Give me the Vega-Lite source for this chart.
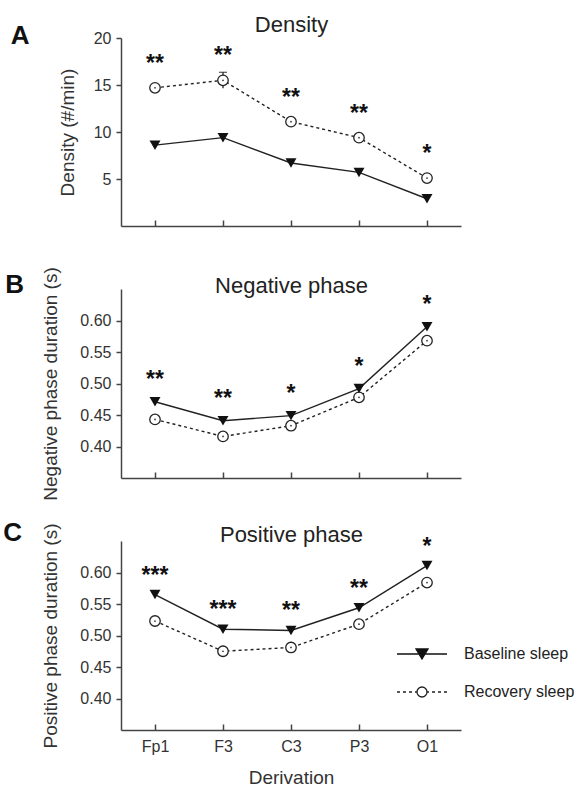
{
  "$schema": "https://vega.github.io/schema/vega-lite/v6.json",
  "padding": {"top": 13, "left": 3, "right": 5, "bottom": 5},
  "datasets": {
    "dens": [
      {"deriv": "Fp1", "series": "Baseline sleep", "value": 8.6, "sig": "**"},
      {"deriv": "F3", "series": "Baseline sleep", "value": 9.4, "sig": "**"},
      {"deriv": "C3", "series": "Baseline sleep", "value": 6.7, "sig": "**"},
      {"deriv": "P3", "series": "Baseline sleep", "value": 5.7, "sig": "**"},
      {"deriv": "O1", "series": "Baseline sleep", "value": 2.9, "sig": "*"},
      {"deriv": "Fp1", "series": "Recovery sleep", "value": 14.7},
      {"deriv": "F3", "series": "Recovery sleep", "value": 15.5},
      {"deriv": "C3", "series": "Recovery sleep", "value": 11.1},
      {"deriv": "P3", "series": "Recovery sleep", "value": 9.4},
      {"deriv": "O1", "series": "Recovery sleep", "value": 5.1}
    ],
    "err": [
      {"deriv": "F3", "series": "Recovery sleep", "lo": 14.65, "hi": 16.35}
    ],
    "neg": [
      {"deriv": "Fp1", "series": "Baseline sleep", "value": 0.471, "sig": "**"},
      {"deriv": "F3", "series": "Baseline sleep", "value": 0.441, "sig": "**"},
      {"deriv": "C3", "series": "Baseline sleep", "value": 0.449, "sig": "*"},
      {"deriv": "P3", "series": "Baseline sleep", "value": 0.492, "sig": "*"},
      {"deriv": "O1", "series": "Baseline sleep", "value": 0.590, "sig": "*"},
      {"deriv": "Fp1", "series": "Recovery sleep", "value": 0.443},
      {"deriv": "F3", "series": "Recovery sleep", "value": 0.416},
      {"deriv": "C3", "series": "Recovery sleep", "value": 0.433},
      {"deriv": "P3", "series": "Recovery sleep", "value": 0.478},
      {"deriv": "O1", "series": "Recovery sleep", "value": 0.568}
    ],
    "pos": [
      {"deriv": "Fp1", "series": "Baseline sleep", "value": 0.565, "sig": "***"},
      {"deriv": "F3", "series": "Baseline sleep", "value": 0.510, "sig": "***"},
      {"deriv": "C3", "series": "Baseline sleep", "value": 0.508, "sig": "**"},
      {"deriv": "P3", "series": "Baseline sleep", "value": 0.544, "sig": "**"},
      {"deriv": "O1", "series": "Baseline sleep", "value": 0.611, "sig": "*"},
      {"deriv": "Fp1", "series": "Recovery sleep", "value": 0.523},
      {"deriv": "F3", "series": "Recovery sleep", "value": 0.475},
      {"deriv": "C3", "series": "Recovery sleep", "value": 0.481},
      {"deriv": "P3", "series": "Recovery sleep", "value": 0.518},
      {"deriv": "O1", "series": "Recovery sleep", "value": 0.584}
    ]
  },
  "bounds": "flush",
  "spacing": 63,
  "vconcat": [
    {
      "width": 340,
      "height": 188,
      "title": {"text": "A", "orient": "left", "angle": 0, "anchor": "end", "frame": "group", "align": "right", "baseline": "alphabetic", "dy": 6, "fontSize": 26, "fontWeight": "bold", "offset": 10, "color": "#111"},
      "data": {"name": "dens"},
      "encoding": {
        "x": {"field": "deriv", "type": "ordinal", "sort": ["Fp1", "F3", "C3", "P3", "O1"], "scale": {"type": "point", "padding": 0.5}, "axis": null},
        "y": {"field": "value", "type": "quantitative", "scale": {"domain": [0, 20]}, "axis": {"title": "Density (#/min)", "values": [5, 10, 15, 20], "tickSize": 5, "labelPadding": 5, "titlePadding": 16}}
      },
      "resolve": {"axis": {"x": "independent"}},
      "layer": [
        {"transform": [{"filter": "datum.series == 'Recovery sleep'"}], "mark": {"type": "line", "color": "#222", "strokeWidth": 1.4, "strokeDash": [3, 3]},
         "encoding": {"x": {"field": "deriv", "type": "ordinal", "sort": ["Fp1", "F3", "C3", "P3", "O1"], "axis": {"labels": false, "title": null, "tickSize": -6}}}},
        {"transform": [{"filter": "datum.series == 'Baseline sleep'"}], "mark": {"type": "line", "color": "#222", "strokeWidth": 1.4}},
        {"data": {"name": "err"}, "mark": {"type": "rule", "color": "#222", "strokeWidth": 1.3}, "encoding": {"y": {"field": "lo", "type": "quantitative"}, "y2": {"field": "hi"}}},
        {"data": {"name": "err"}, "mark": {"type": "tick", "color": "#222", "thickness": 1.3, "size": 8}, "encoding": {"y": {"field": "hi", "type": "quantitative"}}},
        {"transform": [{"filter": "datum.series == 'Recovery sleep'"}], "mark": {"type": "point", "shape": "circle", "filled": true, "fill": "white", "stroke": "#222", "strokeWidth": 1.3, "size": 110, "opacity": 1}},
        {"transform": [{"filter": "datum.series == 'Recovery sleep'"}], "mark": {"type": "point", "shape": "circle", "filled": true, "color": "#333", "size": 3, "opacity": 1}},
        {"transform": [{"filter": "datum.series == 'Baseline sleep'"}], "mark": {"type": "point", "shape": "triangle-down", "filled": true, "color": "#111", "size": 120, "opacity": 1}},
        {
          "transform": [{"joinaggregate": [{"op": "max", "field": "value", "as": "top"}], "groupby": ["deriv"]}, {"filter": "datum.sig"}],
          "mark": {"type": "text", "fontSize": 23, "fontWeight": "bold", "color": "#111", "baseline": "alphabetic", "dy": -17},
          "encoding": {
            "x": {"field": "deriv", "type": "ordinal", "sort": ["Fp1", "F3", "C3", "P3", "O1"], "axis": {"orient": "top", "title": "Density", "domain": false, "ticks": false, "labels": false, "titleFontSize": 22, "titleColor": "#222", "titlePadding": 2}},
            "y": {"field": "top", "type": "quantitative"},
            "text": {"field": "sig"}
          }
        }
      ]
    },
    {
      "width": 340,
      "height": 189,
      "title": {"text": "B", "orient": "left", "angle": 0, "anchor": "end", "frame": "group", "align": "right", "baseline": "alphabetic", "dy": 4, "fontSize": 26, "fontWeight": "bold", "offset": -1, "color": "#111"},
      "data": {"name": "neg"},
      "encoding": {
        "x": {"field": "deriv", "type": "ordinal", "sort": ["Fp1", "F3", "C3", "P3", "O1"], "scale": {"type": "point", "padding": 0.5}, "axis": null},
        "y": {"field": "value", "type": "quantitative", "scale": {"domain": [0.35, 0.65]}, "axis": {"title": "Negative phase duration (s)", "values": [0.4, 0.45, 0.5, 0.55, 0.6], "format": ".2f", "tickSize": 5, "labelPadding": 5, "titlePadding": 19}}
      },
      "resolve": {"axis": {"x": "independent"}},
      "layer": [
        {"transform": [{"filter": "datum.series == 'Recovery sleep'"}], "mark": {"type": "line", "color": "#222", "strokeWidth": 1.4, "strokeDash": [3, 3]},
         "encoding": {"x": {"field": "deriv", "type": "ordinal", "sort": ["Fp1", "F3", "C3", "P3", "O1"], "axis": {"labels": false, "title": null, "tickSize": -6}}}},
        {"transform": [{"filter": "datum.series == 'Baseline sleep'"}], "mark": {"type": "line", "color": "#222", "strokeWidth": 1.4}},
        {"transform": [{"filter": "datum.series == 'Recovery sleep'"}], "mark": {"type": "point", "shape": "circle", "filled": true, "fill": "white", "stroke": "#222", "strokeWidth": 1.3, "size": 110, "opacity": 1}},
        {"transform": [{"filter": "datum.series == 'Recovery sleep'"}], "mark": {"type": "point", "shape": "circle", "filled": true, "color": "#333", "size": 3, "opacity": 1}},
        {"transform": [{"filter": "datum.series == 'Baseline sleep'"}], "mark": {"type": "point", "shape": "triangle-down", "filled": true, "color": "#111", "size": 120, "opacity": 1}},
        {
          "transform": [{"joinaggregate": [{"op": "max", "field": "value", "as": "top"}], "groupby": ["deriv"]}, {"filter": "datum.sig"}],
          "mark": {"type": "text", "fontSize": 23, "fontWeight": "bold", "color": "#111", "baseline": "alphabetic", "dy": -15},
          "encoding": {
            "x": {"field": "deriv", "type": "ordinal", "sort": ["Fp1", "F3", "C3", "P3", "O1"], "axis": {"orient": "top", "title": "Negative phase", "domain": false, "ticks": false, "labels": false, "titleFontSize": 22, "titleColor": "#222", "titlePadding": -8}},
            "y": {"field": "top", "type": "quantitative"},
            "text": {"field": "sig"}
          }
        }
      ]
    },
    {
      "width": 340,
      "height": 189,
      "title": {"text": "C", "orient": "left", "angle": 0, "anchor": "end", "frame": "group", "align": "right", "baseline": "alphabetic", "dy": 0, "fontSize": 26, "fontWeight": "bold", "offset": 1, "color": "#111"},
      "data": {"name": "pos"},
      "encoding": {
        "x": {"field": "deriv", "type": "ordinal", "sort": ["Fp1", "F3", "C3", "P3", "O1"], "scale": {"type": "point", "padding": 0.5}, "axis": null},
        "y": {"field": "value", "type": "quantitative", "scale": {"domain": [0.35, 0.65]}, "axis": {"title": "Positive phase duration (s)", "values": [0.4, 0.45, 0.5, 0.55, 0.6], "format": ".2f", "tickSize": 5, "labelPadding": 5, "titlePadding": 19}}
      },
      "resolve": {"axis": {"x": "independent"}},
      "layer": [
        {"transform": [{"filter": "datum.series == 'Recovery sleep'"}], "mark": {"type": "line", "color": "#222", "strokeWidth": 1.4, "strokeDash": [3, 3]},
         "encoding": {"x": {"field": "deriv", "type": "ordinal", "sort": ["Fp1", "F3", "C3", "P3", "O1"], "axis": {"title": "Derivation", "labelAngle": 0, "tickSize": -6, "labelPadding": 14, "titlePadding": 14}}}},
        {"transform": [{"filter": "datum.series == 'Baseline sleep'"}], "mark": {"type": "line", "color": "#222", "strokeWidth": 1.4}},
        {"transform": [{"filter": "datum.series == 'Recovery sleep'"}], "mark": {"type": "point", "shape": "circle", "filled": true, "fill": "white", "stroke": "#222", "strokeWidth": 1.3, "size": 110, "opacity": 1}},
        {"transform": [{"filter": "datum.series == 'Recovery sleep'"}], "mark": {"type": "point", "shape": "circle", "filled": true, "color": "#333", "size": 3, "opacity": 1}},
        {"transform": [{"filter": "datum.series == 'Baseline sleep'"}], "mark": {"type": "point", "shape": "triangle-down", "filled": true, "color": "#111", "size": 120, "opacity": 1}},
        {
          "transform": [{"joinaggregate": [{"op": "max", "field": "value", "as": "top"}], "groupby": ["deriv"]}, {"filter": "datum.sig"}],
          "mark": {"type": "text", "fontSize": 23, "fontWeight": "bold", "color": "#111", "baseline": "alphabetic", "dy": -12},
          "encoding": {
            "x": {"field": "deriv", "type": "ordinal", "sort": ["Fp1", "F3", "C3", "P3", "O1"], "axis": {"orient": "top", "title": "Positive phase", "domain": false, "ticks": false, "labels": false, "titleFontSize": 22, "titleColor": "#222", "titlePadding": -5}},
            "y": {"field": "top", "type": "quantitative"},
            "text": {"field": "sig"}
          }
        },
        {
          "transform": [{"filter": "false"}],
          "mark": {"type": "point", "filled": true, "strokeWidth": 1.3, "opacity": 1},
          "encoding": {
            "shape": {"field": "series", "type": "nominal", "scale": {"domain": ["Baseline sleep", "Recovery sleep"], "range": ["M-1,0H1M-0.24,-0.2H0.24L0,0.2Z", "M-1,0H-0.88M-0.76,0H-0.64M-0.52,0H-0.4M-0.28,0H-0.2M0.2,0H0.28M0.4,0H0.52M0.64,0H0.76M0.88,0H1M0.2,0A0.2,0.2 0 1,1 -0.2,0A0.2,0.2 0 1,1 0.2,0Z"]}, "legend": {"title": null, "orient": "none", "legendX": 275, "legendY": 590, "symbolSize": 2500, "symbolStrokeWidth": 1.3, "labelFontSize": 16, "labelColor": "#222", "labelOffset": 16, "rowPadding": 4}},
            "fill": {"field": "series", "type": "nominal", "scale": {"domain": ["Baseline sleep", "Recovery sleep"], "range": ["#111111", "#ffffff"]}, "legend": {"title": null, "orient": "none", "legendX": 275, "legendY": 590, "symbolSize": 2500, "symbolStrokeWidth": 1.3, "labelFontSize": 16, "labelColor": "#222", "labelOffset": 16, "rowPadding": 4}},
            "stroke": {"field": "series", "type": "nominal", "scale": {"domain": ["Baseline sleep", "Recovery sleep"], "range": ["#111111", "#222222"]}, "legend": {"title": null, "orient": "none", "legendX": 275, "legendY": 590, "symbolSize": 2500, "symbolStrokeWidth": 1.3, "labelFontSize": 16, "labelColor": "#222", "labelOffset": 16, "rowPadding": 4}}
          }
        }
      ]
    }
  ],
  "config": {
    "font": "Liberation Sans",
    "view": {"stroke": null},
    "axis": {"grid": false, "domainColor": "#444", "domainWidth": 1.5, "tickColor": "#444", "tickWidth": 1.5, "labelFont": "Liberation Sans", "labelFontSize": 16, "labelColor": "#333", "titleFont": "Liberation Sans", "titleFontSize": 19, "titleFontWeight": "normal", "titleColor": "#333"},
    "title": {"font": "Liberation Sans", "fontWeight": "normal", "color": "#222"},
    "legend": {"labelFont": "Liberation Sans"}
  }
}
